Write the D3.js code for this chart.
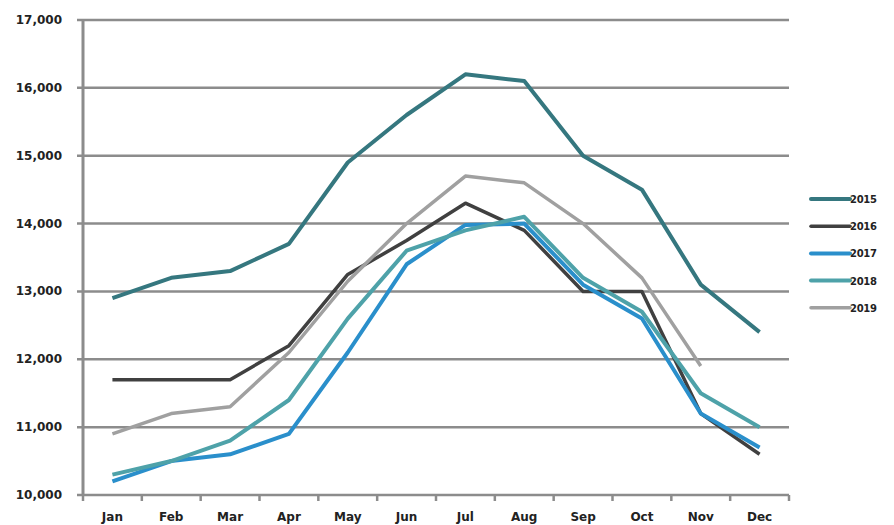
<!DOCTYPE html>
<html>
<head>
<meta charset="utf-8">
<script src="https://cdn.jsdelivr.net/npm/d3@7"></script>
<style>
  body { margin: 0; background: #fff; }
  text { font-family: "DejaVu Sans", Verdana, sans-serif; font-weight: bold; fill: #222; }
</style>
</head>
<body>
<script>
// chart values
var months = ['Jan', 'Feb', 'Mar', 'Apr', 'May', 'Jun', 'Jul', 'Aug', 'Sep', 'Oct', 'Nov', 'Dec']
var years = ['2015', '2016', '2017', '2018', '2019']
var v2015 = [12900, 13200, 13300, 13700, 14900, 15600, 16200, 16100, 15000, 14500, 13100, 12400]
var v2016 = [11700, 11700, 11700, 12200, 13250, 13750, 14300, 13900, 13000, 13000, 11200, 10600]
var v2017 = [10200, 10500, 10600, 10900, 12100, 13400, 13980, 14000, 13100, 12600, 11200, 10700]
var v2018 = [10300, 10500, 10800, 11400, 12600, 13600, 13900, 14100, 13200, 12700, 11500, 11000]
var v2019 = [10900, 11200, 11300, 12100, 13150, 14000, 14700, 14600, 14000, 13200, 11900]
var yTicks = [10000, 11000, 12000, 13000, 14000, 15000, 16000, 17000]

var colors = ['#35777f', '#404040', '#2a8fcb', '#4ea2a9', '#a0a0a0']
var widths = [4, 3.5, 4, 4, 3.5]
var series = [v2015, v2016, v2017, v2018, v2019]

var W = 894, H = 525
var pLeft = 83, pRight = 789, pTop = 20, pBottom = 495

var svg = d3.select(document.body).append('svg')
  .attr('width', W).attr('height', H)

var x = d3.scaleBand().domain(months).range([pLeft, pRight])
var y = d3.scaleLinear().domain([10000, 17000]).range([pBottom, pTop])

// horizontal grid
svg.append('g').selectAll('line').data(yTicks).enter().append('line')
  .attr('x1', pLeft - 6).attr('x2', pRight)
  .attr('y1', function(d) { return y(d) }).attr('y2', function(d) { return y(d) })
  .attr('stroke', '#8c8c8c').attr('stroke-width', 2.5)

// y labels
svg.append('g').selectAll('text').data(yTicks).enter().append('text')
  .attr('x', 62).attr('y', function(d) { return y(d) + 4 })
  .attr('text-anchor', 'end').attr('font-size', 12)
  .text(function(d) { return d3.format(',')(d) })

// axis line
svg.append('line').attr('x1', pLeft).attr('x2', pLeft).attr('y1', pTop).attr('y2', pBottom)
  .attr('stroke', '#8c8c8c').attr('stroke-width', 3)

// x ticks at band edges
var edges = months.map(function(m) { return x(m) }).concat([pRight])
svg.append('g').selectAll('line').data(edges).enter().append('line')
  .attr('x1', function(d) { return d }).attr('x2', function(d) { return d })
  .attr('y1', pBottom).attr('y2', pBottom + 6)
  .attr('stroke', '#8c8c8c').attr('stroke-width', 2.5)

svg.append('g').selectAll('text').data(months).enter().append('text')
  .attr('x', function(d) { return x(d) + x.bandwidth() / 2 })
  .attr('y', 521).attr('text-anchor', 'middle').attr('font-size', 12)
  .text(function(d) { return d })

var line = d3.line()
  .x(function(d, i) { return x(months[i]) + x.bandwidth() / 2 })
  .y(function(d) { return y(d) })

series.forEach(function(s, i) {
  svg.append('path').datum(s)
    .attr('d', line)
    .attr('fill', 'none')
    .attr('stroke', colors[i])
    .attr('stroke-width', widths[i])
    .attr('stroke-linejoin', 'round')
})

// legend
var leg = svg.append('g')
years.forEach(function(yr, i) {
  var ly = 199 + i * 27.2
  leg.append('line').attr('x1', 811).attr('x2', 850)
    .attr('y1', ly).attr('y2', ly)
    .attr('stroke', colors[i]).attr('stroke-width', widths[i])
    .attr('stroke-linecap', 'round')
  leg.append('text').attr('x', 850).attr('y', ly + 4)
    .attr('font-size', 10).attr('letter-spacing', -0.3)
    .text(yr)
})
</script>
</body>
</html>
